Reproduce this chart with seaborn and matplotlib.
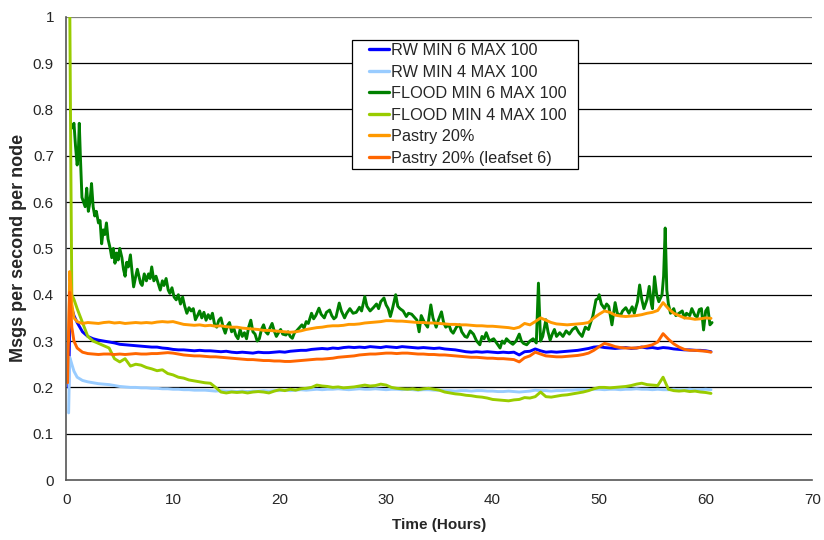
import numpy as np
import pandas as pd
import matplotlib
matplotlib.use("Agg")
import matplotlib.pyplot as plt
import seaborn as sns
from matplotlib.legend_handler import HandlerLine2D

# shared sampling grid for the smoother series (hours)
hours = [0.1, 0.2, 0.3, 0.4, 0.5, 0.7, 1.0, 1.5] + list(np.arange(2.0, 60.51, 0.5))

rw6 = [np.nan, 0.20, 0.33, 0.38, 0.37, 0.355, 0.34, 0.32,
       0.31, 0.305, 0.302, 0.30, 0.298, 0.296, 0.293, 0.292, 0.291, 0.29, 0.289, 0.288,
       0.287, 0.287, 0.285, 0.284, 0.282, 0.281, 0.281, 0.28, 0.279, 0.28, 0.279, 0.279,
       0.278, 0.277, 0.278, 0.276, 0.275, 0.276, 0.275, 0.274, 0.276, 0.275, 0.275, 0.276,
       0.277, 0.276, 0.278, 0.279, 0.28, 0.28, 0.282, 0.283, 0.284, 0.283, 0.285, 0.284,
       0.286, 0.287, 0.286, 0.287, 0.286, 0.288, 0.287, 0.286, 0.288, 0.287, 0.286, 0.288,
       0.287, 0.286, 0.285, 0.286, 0.285, 0.284, 0.285, 0.283, 0.282, 0.281, 0.279, 0.277,
       0.276, 0.277, 0.276, 0.277, 0.276, 0.275, 0.276, 0.275, 0.276, 0.270, 0.277, 0.278,
       0.283, 0.279, 0.276, 0.277, 0.276, 0.277, 0.278, 0.279, 0.28, 0.282, 0.284, 0.287,
       0.288, 0.286, 0.285, 0.284, 0.285, 0.286, 0.284, 0.285, 0.287, 0.285, 0.286, 0.284,
       0.286, 0.285, 0.283, 0.282, 0.281, 0.281, 0.28, 0.28, 0.279, 0.277]

rw4 = [np.nan, 0.145, 0.265, 0.258, 0.25, 0.235, 0.222, 0.215,
       0.212, 0.21, 0.208, 0.207, 0.206, 0.204, 0.202, 0.201, 0.20, 0.20, 0.199, 0.199,
       0.198, 0.198, 0.197, 0.197, 0.196, 0.196, 0.195, 0.195, 0.194, 0.194, 0.194, 0.193,
       0.192, 0.193, 0.192, 0.192, 0.191, 0.192, 0.191, 0.192, 0.192, 0.193, 0.192, 0.193,
       0.193, 0.194, 0.193, 0.194, 0.195, 0.194, 0.195, 0.196, 0.195, 0.196, 0.196, 0.197,
       0.196, 0.195, 0.196, 0.197, 0.196, 0.196, 0.197, 0.196, 0.195, 0.196, 0.196, 0.195,
       0.196, 0.195, 0.194, 0.195, 0.195, 0.194, 0.194, 0.193, 0.193, 0.192, 0.193, 0.193,
       0.192, 0.193, 0.193, 0.192, 0.192, 0.191, 0.191, 0.192, 0.191, 0.19, 0.191, 0.192,
       0.194, 0.193, 0.193, 0.192, 0.193, 0.193, 0.194, 0.194, 0.195, 0.195, 0.195, 0.196,
       0.196, 0.195, 0.196, 0.196, 0.195, 0.196, 0.196, 0.197, 0.196, 0.196, 0.195, 0.196,
       0.195, 0.195, 0.196, 0.195, 0.195, 0.196, 0.195, 0.195, 0.196, 0.195]

flood4 = [np.nan, np.nan, 1.05, 0.70, 0.40, 0.39, 0.37, 0.34,
          0.31, 0.30, 0.295, 0.29, 0.285, 0.262, 0.255, 0.262, 0.246, 0.25, 0.248, 0.243,
          0.24, 0.236, 0.238, 0.23, 0.227, 0.222, 0.22, 0.216, 0.214, 0.212, 0.21, 0.209,
          0.20, 0.19, 0.188, 0.19, 0.189, 0.19, 0.188, 0.19, 0.191, 0.19, 0.188, 0.192,
          0.195, 0.193, 0.196, 0.194, 0.197, 0.198, 0.20, 0.205, 0.203, 0.202, 0.20, 0.201,
          0.199, 0.20, 0.201, 0.203, 0.205, 0.203, 0.204, 0.207, 0.205, 0.20, 0.198, 0.197,
          0.196, 0.197, 0.195, 0.197, 0.198, 0.196, 0.194, 0.19, 0.188, 0.186, 0.185, 0.183,
          0.182, 0.18, 0.179, 0.177, 0.174, 0.173, 0.172, 0.171, 0.173, 0.174, 0.178, 0.177,
          0.18, 0.19, 0.18, 0.179, 0.181, 0.183, 0.184, 0.186, 0.188, 0.19, 0.193, 0.197,
          0.20, 0.20, 0.199, 0.20, 0.201, 0.202, 0.204, 0.207, 0.209, 0.206, 0.205, 0.204,
          0.222, 0.196, 0.193, 0.192, 0.193, 0.191, 0.192, 0.19, 0.189, 0.187]

pastry = [np.nan, 0.30, 0.45, 0.42, 0.38, 0.35, 0.342, 0.338,
          0.34, 0.339, 0.338, 0.34, 0.341, 0.339, 0.34, 0.338, 0.339, 0.34, 0.339, 0.34,
          0.339, 0.341, 0.342, 0.341, 0.342, 0.339, 0.336, 0.335, 0.334, 0.335, 0.333, 0.334,
          0.332, 0.333, 0.331, 0.33, 0.33, 0.328, 0.327, 0.326, 0.325, 0.323, 0.323, 0.322,
          0.321, 0.32, 0.319, 0.32, 0.322, 0.325, 0.327, 0.329, 0.33, 0.332, 0.333, 0.333,
          0.334, 0.336, 0.336, 0.337, 0.339, 0.34, 0.341, 0.342, 0.344, 0.344, 0.343, 0.343,
          0.342, 0.341, 0.34, 0.34, 0.339, 0.339, 0.338, 0.337, 0.336, 0.336, 0.335, 0.335,
          0.334, 0.333, 0.333, 0.332, 0.332, 0.331, 0.33, 0.329, 0.327, 0.33, 0.338, 0.335,
          0.342, 0.35, 0.345, 0.34, 0.337, 0.336, 0.335, 0.336, 0.337, 0.338, 0.34, 0.35,
          0.358, 0.365, 0.362, 0.356, 0.354, 0.353, 0.354, 0.355, 0.357, 0.36, 0.362, 0.366,
          0.383, 0.37, 0.36, 0.355, 0.35, 0.349, 0.347, 0.348, 0.35, 0.349]

pastry_ls6 = [0.21, 0.32, 0.405, 0.37, 0.33, 0.30, 0.285, 0.276,
              0.273, 0.272, 0.271, 0.272, 0.272, 0.271, 0.272, 0.271, 0.272, 0.273, 0.272, 0.272,
              0.273, 0.273, 0.274, 0.275, 0.274, 0.272, 0.27, 0.269, 0.268, 0.268, 0.267, 0.266,
              0.266, 0.265, 0.264, 0.263, 0.262, 0.261, 0.26, 0.26, 0.259, 0.258, 0.258, 0.257,
              0.257, 0.256, 0.256, 0.257, 0.258, 0.259, 0.26, 0.261, 0.261, 0.262, 0.263, 0.265,
              0.266, 0.267, 0.268, 0.27, 0.271, 0.272, 0.272, 0.273, 0.274, 0.274, 0.273, 0.274,
              0.274, 0.273, 0.272, 0.272, 0.271, 0.271, 0.27, 0.27, 0.269, 0.268, 0.267, 0.266,
              0.265, 0.265, 0.264, 0.263, 0.263, 0.262, 0.262, 0.261, 0.26, 0.255, 0.264, 0.268,
              0.276, 0.272, 0.268, 0.267, 0.266, 0.266, 0.267, 0.268, 0.269, 0.271, 0.274, 0.28,
              0.288, 0.295, 0.292, 0.288, 0.286, 0.285, 0.285, 0.285, 0.287, 0.289, 0.292, 0.298,
              0.316, 0.304, 0.294, 0.287, 0.282, 0.28, 0.28, 0.279, 0.278, 0.276]

# FLOOD MIN 6 is very jagged, so it gets its own (irregular) time readings
flood6_hours = [0.55, 0.7, 0.85, 1.0, 1.1, 1.2, 1.3, 1.45, 1.6, 1.75, 1.9, 2.05, 2.2, 2.35, 2.5,
                2.65, 2.8, 3.0, 3.15, 3.3, 3.45, 3.6, 3.75, 3.9, 4.1, 4.25, 4.4, 4.55, 4.7, 4.85,
                5.0, 5.2, 5.35, 5.5, 5.65, 5.8, 6.0, 6.15, 6.3, 6.5, 6.65, 6.8, 6.95, 7.1, 7.3,
                7.5, 7.7, 7.85, 8.0, 8.2, 8.4, 8.6, 8.8, 9.0, 9.15, 9.35, 9.55, 9.7, 9.9, 10.1,
                10.3, 10.5, 10.7, 10.9, 11.1, 11.3, 11.5, 11.7, 11.9, 12.1, 12.3, 12.5, 12.7,
                12.9, 13.1, 13.3, 13.5, 13.7, 13.9, 14.1, 14.3, 14.5, 14.7, 14.9, 15.1, 15.3,
                15.5, 15.7, 15.9, 16.1, 16.3, 16.5, 16.7, 16.9, 17.1, 17.3, 17.5, 17.7, 17.9,
                18.1, 18.3, 18.5, 18.7, 18.9, 19.1, 19.3, 19.5, 19.7, 19.9, 20.1, 20.3, 20.6,
                20.8, 21.0, 21.2, 21.4, 21.6, 21.9, 22.1, 22.3, 22.5, 22.7, 23.0, 23.2, 23.4,
                23.7, 23.9, 24.2, 24.4, 24.7, 24.9, 25.1, 25.3, 25.6, 25.8, 26.1, 26.3, 26.6,
                26.9, 27.2, 27.5, 27.7, 28.0, 28.2, 28.5, 28.8, 29.1, 29.3, 29.5, 29.8, 30.0,
                30.2, 30.4, 30.6, 30.9, 31.1, 31.3, 31.6, 31.9, 32.1, 32.4, 32.7, 32.9, 33.1,
                33.3, 33.6, 33.9, 34.2, 34.4, 34.7, 34.9, 35.2, 35.4, 35.6, 35.9, 36.1, 36.3,
                36.6, 36.9, 37.1, 37.4, 37.6, 37.9, 38.2, 38.5, 38.8, 39.0, 39.2, 39.4, 39.7,
                40.1, 40.4, 40.7, 40.9, 41.1, 41.3, 41.6, 41.9, 42.2, 42.5, 42.7, 42.9, 43.2,
                43.5, 43.8, 44.1, 44.3, 44.5, 44.7, 45.0, 45.2, 45.4, 45.6, 45.8, 46.0, 46.3,
                46.6, 46.9, 47.2, 47.5, 47.8, 48.1, 48.4, 48.7, 49.0, 49.2, 49.4, 49.7, 49.9,
                50.0, 50.2, 50.5, 50.7, 50.9, 51.2, 51.5, 51.7, 52.0, 52.2, 52.5, 52.8, 53.1,
                53.3, 53.6, 53.8, 54.0, 54.2, 54.5, 54.7, 54.9, 55.0, 55.2, 55.4, 55.6, 55.9,
                56.05, 56.2, 56.35, 56.5, 56.7, 57.0, 57.2, 57.5, 57.8, 58.0, 58.2, 58.5, 58.7,
                59.0, 59.2, 59.4, 59.6, 59.8, 60.0, 60.2, 60.4, 60.6]
flood6 = [0.76, 0.77, 0.72, 0.68, 0.70, 0.77, 0.70, 0.61, 0.60, 0.59, 0.63, 0.58, 0.60, 0.64, 0.59,
          0.57, 0.58, 0.555, 0.56, 0.51, 0.54, 0.53, 0.555, 0.52, 0.50, 0.48, 0.50, 0.468, 0.49, 0.475,
          0.50, 0.48, 0.455, 0.44, 0.47, 0.46, 0.486, 0.45, 0.417, 0.44, 0.455, 0.44, 0.425, 0.42, 0.445,
          0.43, 0.445, 0.435, 0.46, 0.43, 0.44, 0.425, 0.41, 0.43, 0.42, 0.435, 0.41, 0.403, 0.415, 0.395,
          0.389, 0.40, 0.38, 0.395, 0.375, 0.36, 0.372, 0.365, 0.37, 0.346, 0.355, 0.365, 0.35,
          0.362, 0.345, 0.357, 0.348, 0.36, 0.336, 0.33, 0.345, 0.35, 0.33, 0.317, 0.333, 0.34,
          0.32, 0.328, 0.312, 0.305, 0.325, 0.31, 0.318, 0.305, 0.33, 0.345, 0.32, 0.315, 0.30,
          0.305, 0.325, 0.335, 0.32, 0.315, 0.328, 0.338, 0.322, 0.31, 0.318, 0.325, 0.315, 0.313,
          0.32, 0.31, 0.306, 0.318, 0.322, 0.33, 0.335, 0.328, 0.342, 0.338, 0.36, 0.348, 0.355,
          0.371, 0.358, 0.35, 0.362, 0.367, 0.355, 0.348, 0.352, 0.382, 0.365, 0.35, 0.36, 0.37,
          0.36, 0.362, 0.373, 0.365, 0.396, 0.375, 0.365, 0.372, 0.38, 0.37, 0.385, 0.393, 0.378,
          0.37, 0.353, 0.37, 0.40, 0.375, 0.37, 0.365, 0.353, 0.36, 0.358, 0.35, 0.345, 0.32,
          0.355, 0.34, 0.33, 0.378, 0.35, 0.33, 0.345, 0.363, 0.34, 0.33, 0.335, 0.322, 0.317,
          0.33, 0.335, 0.32, 0.31, 0.308, 0.322, 0.315, 0.30, 0.292, 0.31, 0.305, 0.318, 0.30,
          0.305, 0.295, 0.285, 0.30, 0.295, 0.305, 0.298, 0.293, 0.30, 0.315, 0.30, 0.295, 0.292,
          0.30, 0.305, 0.296, 0.425, 0.30, 0.31, 0.346, 0.32, 0.302, 0.315, 0.325, 0.31, 0.318,
          0.31, 0.322, 0.315, 0.325, 0.33, 0.318, 0.31, 0.33, 0.325, 0.34, 0.353, 0.389, 0.392,
          0.40, 0.38, 0.37, 0.38, 0.375, 0.335, 0.383, 0.36, 0.355, 0.365, 0.372, 0.36, 0.374,
          0.36, 0.385, 0.421, 0.39, 0.37, 0.39, 0.418, 0.38, 0.37, 0.439, 0.40, 0.385, 0.40,
          0.44, 0.544, 0.41, 0.38, 0.36, 0.37, 0.355, 0.36, 0.365, 0.35, 0.36, 0.355, 0.37,
          0.355, 0.352, 0.368, 0.37, 0.324, 0.365, 0.372, 0.335, 0.34]

series_names = ["RW MIN 6 MAX 100", "RW MIN 4 MAX 100", "FLOOD MIN 6 MAX 100",
                "FLOOD MIN 4 MAX 100", "Pastry 20%", "Pastry 20% (leafset 6)"]
colors = ["#0000FF", "#99CCFF", "#008000", "#99CC00", "#FF9900", "#FF6600"]

frames = []
for name, xs, ys in [
    (series_names[0], hours, rw6),
    (series_names[1], hours, rw4),
    (series_names[2], flood6_hours, flood6),
    (series_names[3], hours, flood4),
    (series_names[4], hours, pastry),
    (series_names[5], hours, pastry_ls6),
]:
    frames.append(pd.DataFrame({"hours": xs, "msgs": ys, "series": name}))
df = pd.concat(frames, ignore_index=True).dropna()

sns.set_style("white")
plt.rcParams["font.family"] = ["Liberation Sans", "DejaVu Sans"]

fig = plt.figure(figsize=(8.24, 5.40), dpi=100)
ax = fig.add_axes([0.0807, 0.111, 0.905, 0.858])

for y in np.arange(0.1, 1.01, 0.1):
    ax.axhline(y, color="black" if y < 0.95 else "#808080", lw=0.9, zorder=0)

sns.lineplot(data=df, x="hours", y="msgs", hue="series", hue_order=series_names,
             palette=dict(zip(series_names, colors)), estimator=None, sort=False,
             linewidth=2.1, ax=ax, legend=False)

ax.set_xlim(0, 70)
ax.set_ylim(0, 1)
ax.set_xticks(range(0, 71, 10))
ax.set_yticks(np.round(np.arange(0, 1.01, 0.1), 1))
ax.set_yticklabels([f"{v:g}" for v in np.round(np.arange(0, 1.01, 0.1), 1)])
ax.tick_params(axis="both", direction="out", length=5, width=1, color="#555555",
               labelsize=11, pad=4)
for side in ["top", "right"]:
    ax.spines[side].set_visible(False)
for side in ["left", "bottom"]:
    ax.spines[side].set_color("#555555")
    ax.spines[side].set_linewidth(1.2)

ax.set_xlabel("Time (Hours)", fontsize=11, fontweight="bold", labelpad=8)
ax.set_ylabel("Msgs per second per node", fontsize=13, fontweight="bold", labelpad=4)

# legend: short handles indented from the frame, frame stretched to the boxed width
handles = [plt.Line2D([], [], color=c, lw=2.4) for c in colors]
leg = ax.legend(handles, series_names, loc="upper left",
                bbox_to_anchor=(0.383, 0.0, 0.303, 0.95), mode="expand",
                fontsize=11.7, frameon=True, fancybox=False, framealpha=1,
                edgecolor="black", handlelength=2.1, handletextpad=0.12,
                labelspacing=0.4, borderpad=0.2, borderaxespad=0,
                handler_map={plt.Line2D: HandlerLine2D(xpad=0.85)})
leg.get_frame().set_linewidth(0.9)

fig.savefig("out.png", dpi=100)
